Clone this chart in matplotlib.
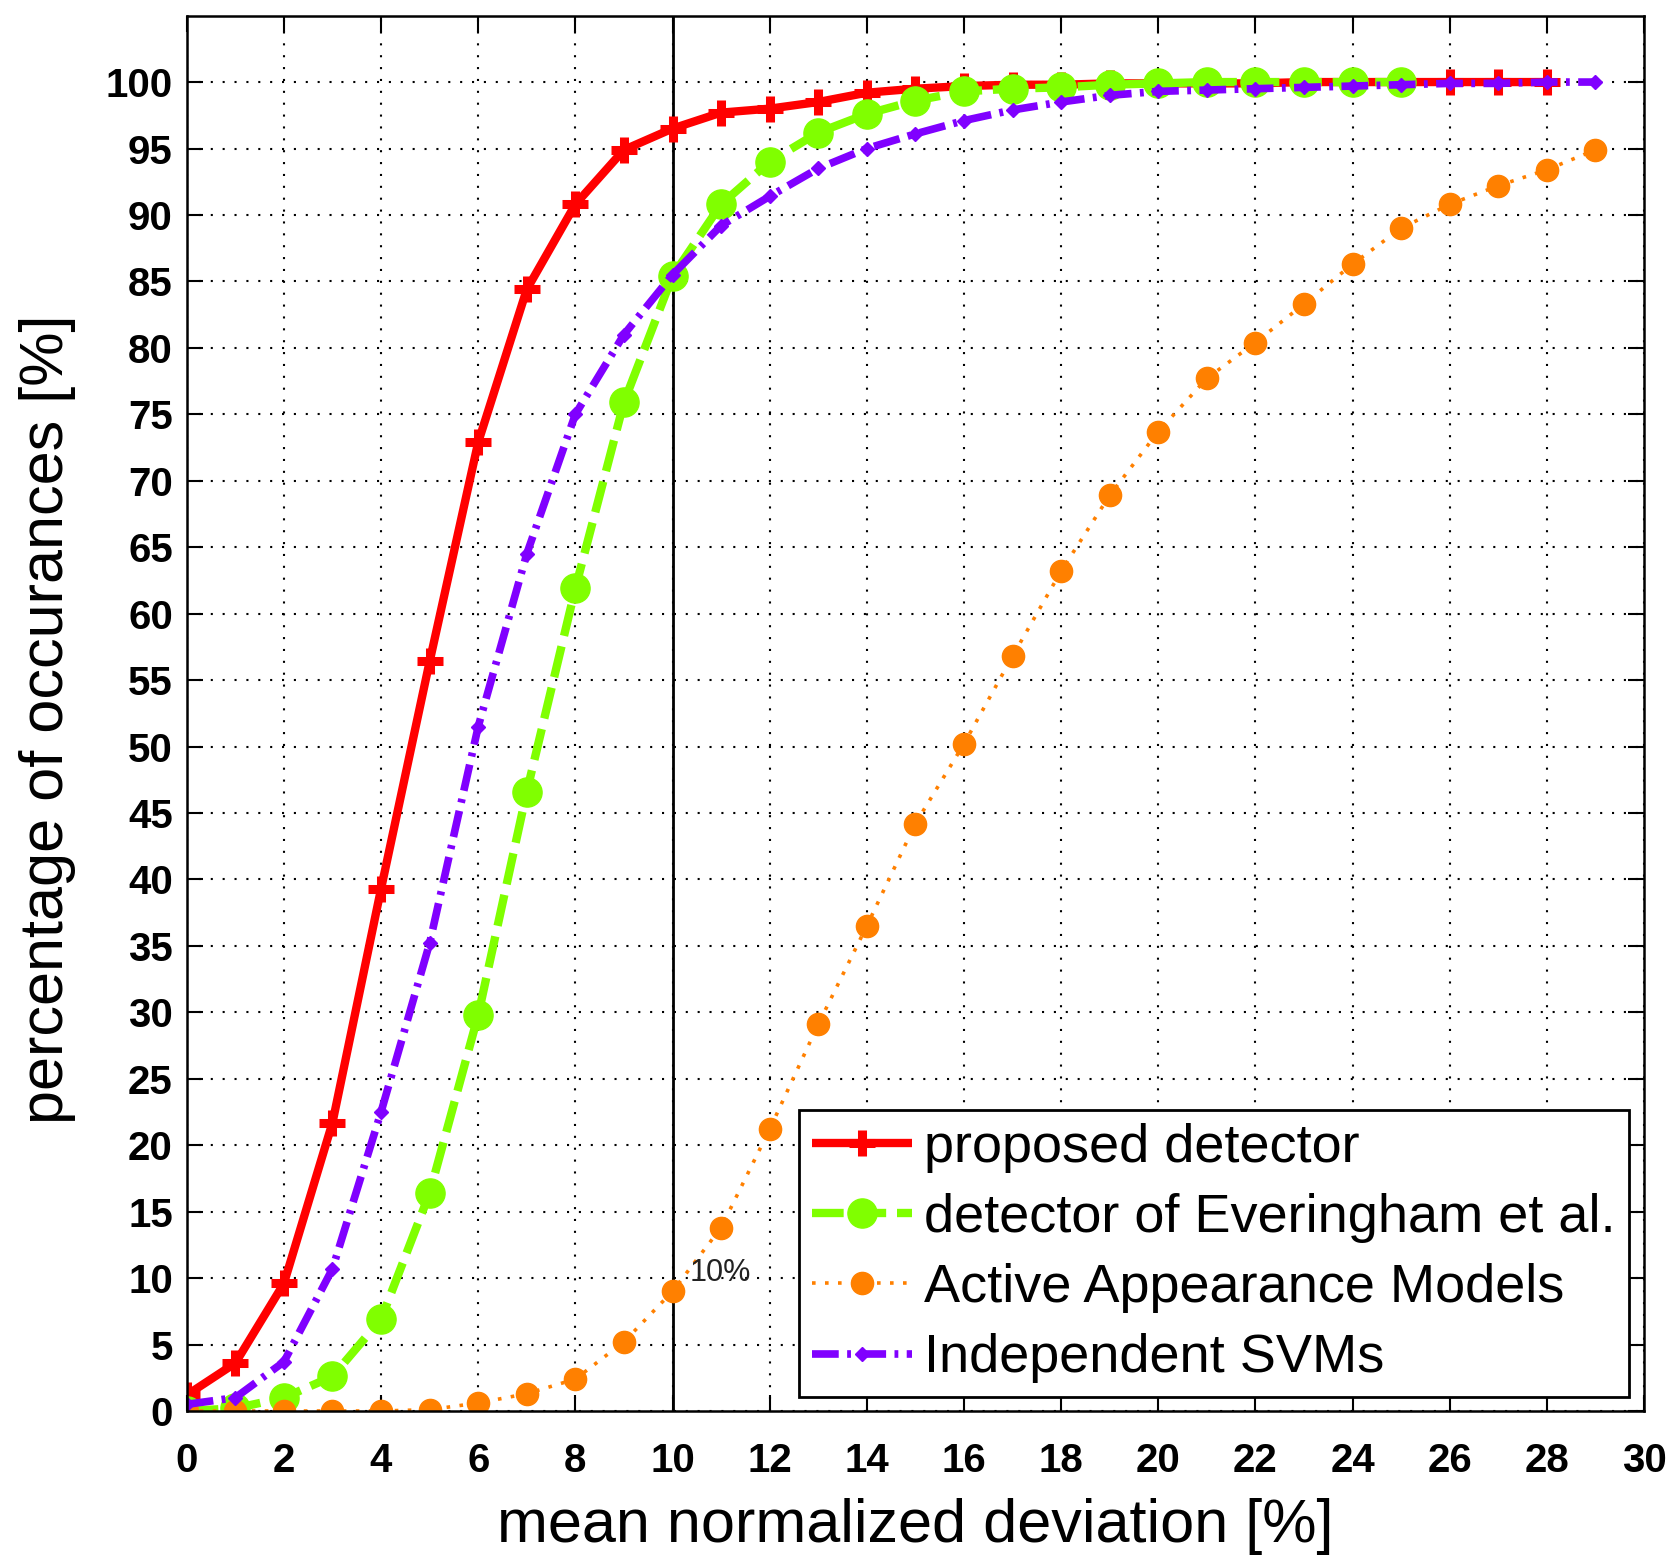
import matplotlib
matplotlib.use("Agg")
import matplotlib.pyplot as plt
import numpy as np

plt.rcParams['font.family'] = ['Liberation Sans', 'DejaVu Sans']

# ---- data ----
x_prop = list(range(0, 29))
y_prop = [1.2, 3.6, 9.6, 21.7, 39.3, 56.4, 72.9, 84.4, 90.8, 94.9, 96.5, 97.7, 98.0, 98.5,
          99.2, 99.5, 99.7, 99.8, 99.8, 99.9, 99.9, 99.9, 99.9, 100, 100, 100, 100, 100, 100]

x_ever = list(range(0, 26))
y_ever = [0.0, 0.2, 1.0, 2.6, 6.9, 16.4, 29.8, 46.6, 61.9, 75.9, 85.4, 90.8, 94.0, 96.2,
          97.6, 98.6, 99.3, 99.5, 99.6, 99.8, 99.9, 100, 100, 100, 100, 100]

x_aam = list(range(0, 30))
y_aam = [0.0, 0.0, 0.0, 0.0, 0.0, 0.1, 0.6, 1.3, 2.4, 5.2, 9.0, 13.8, 21.2, 29.1, 36.5,
         44.2, 50.2, 56.8, 63.2, 68.9, 73.7, 77.7, 80.4, 83.3, 86.3, 89.0, 90.8, 92.2, 93.4, 94.9]

x_svm = list(range(0, 30))
y_svm = [0.5, 1.0, 3.7, 10.7, 22.5, 35.2, 51.5, 64.5, 75.0, 81.0, 85.5, 89.2, 91.4, 93.5,
         95.0, 96.1, 97.1, 97.9, 98.5, 99.0, 99.3, 99.4, 99.5, 99.6, 99.7, 99.8, 99.9, 99.9, 100, 100]

labels = ["proposed detector", "detector of Everingham et al.",
          "Active Appearance Models", "Independent SVMs"]
x_ticks = list(range(0, 31, 2))
y_ticks = list(range(0, 101, 5))
threshold = 10
threshold_label = "10%"

# ---- figure ----
fig = plt.figure(figsize=(16.75, 15.61), dpi=100)
ax = fig.add_axes([0.1115, 0.0961, 0.8700, 0.8939])

ax.plot(x_prop, y_prop, color='#FF0000', lw=6, ls='-', marker='+', ms=19, mew=6.5,
        label=labels[0], solid_capstyle='butt')
ax.plot(x_ever, y_ever, color='#80FF00', lw=6, dashes=(3.8, 1.3), marker='o', ms=21,
        mec='#80FF00', label=labels[1])
ax.plot(x_aam, y_aam, color='#FF8000', lw=2.6, dashes=(1.0, 2.6), marker='o', ms=16,
        mec='#FF8000', label=labels[2])
ax.plot(x_svm, y_svm, color='#8000FF', lw=5.5, dashes=(3.5, 1.1, 0.5, 1.1), marker='D', ms=7,
        mec='#8000FF', label=labels[3])

ax.axvline(threshold, color='black', lw=2, zorder=1.5)
ax.text(threshold + 0.36, 10.4, threshold_label, fontsize=22, va='center', ha='left',
        color='#222222')

ax.set_xlim(0, 30)
ax.set_ylim(0, 105)
ax.set_xticks(x_ticks)
ax.set_yticks(y_ticks)
ax.tick_params(direction='in', length=11.5, width=1.5, top=True, right=True,
               labelsize=29, pad=10)
ax.tick_params(axis='x', pad=22)
for lab in ax.get_xticklabels() + ax.get_yticklabels():
    lab.set_fontweight('bold')

ax.grid(True, color='black', ls=(0, (1, 4.7)), lw=1.5)
for sp in ax.spines.values():
    sp.set_linewidth(1.8)

ax.set_xlabel("mean normalized deviation [%]", fontsize=44)
ax.set_ylabel("percentage of occurances [%]", fontsize=44)
ax.xaxis.set_label_coords(0.5, -0.0625)
ax.yaxis.set_label_coords(-0.076, 0.496)

leg = ax.legend(loc='lower right', bbox_to_anchor=(0.99, 0.01), borderaxespad=0,
                fontsize=39, handlelength=1.85, handletextpad=0.22, labelspacing=0.37,
                fancybox=False, edgecolor='black', framealpha=1, borderpad=0.25)
leg.get_frame().set_linewidth(2)

fig.savefig("out.png", dpi=100)
